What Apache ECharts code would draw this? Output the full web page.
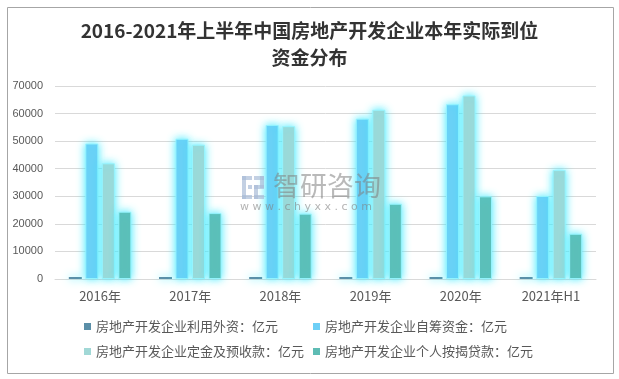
<!DOCTYPE html>
<html>
<head>
<meta charset="utf-8">
<script src="https://cdn.jsdelivr.net/npm/echarts@6/dist/echarts.min.js"></script>
<style>
html,body{margin:0;padding:0;background:#fff;}
#chart{width:619px;height:379px;}
</style>
</head>
<body>
<div id="chart"></div>
<script>
var titleText = '2016-2021年上半年中国房地产开发企业本年实际到位\n资金分布';
var categories = ['2016年', '2017年', '2018年', '2019年', '2020年', '2021年H1'];
var seriesNames = [
  '房地产开发企业利用外资：亿元',
  '房地产开发企业自筹资金：亿元',
  '房地产开发企业定金及预收款：亿元',
  '房地产开发企业个人按揭贷款：亿元'
];
var foreignCapital = [140, 168, 108, 176, 192, 60];
var selfRaised = [49133, 50872, 55831, 58158, 63377, 30100];
var depositsAdvance = [41952, 48694, 55418, 61359, 66547, 39500];
var mortgageLoans = [24403, 23906, 23706, 27281, 29976, 16400];
var yTicks = [0, 10000, 20000, 30000, 40000, 50000, 60000, 70000];

var colors = ['#5b8fa8', '#6dcff6', '#a1d8d6', '#5ebcb4'];
var dataSets = [foreignCapital, selfRaised, depositsAdvance, mortgageLoans];

var chart = echarts.init(document.getElementById('chart'));
var series = dataSets.map(function (d, i) {
  return {
    name: seriesNames[i],
    type: 'bar',
    data: d,
    barWidth: 13,
    barGap: '27%',
    barMinHeight: i === 0 ? 2 : 0,
    itemStyle: {
      color: colors[i],
      borderColor: i === 0 ? colors[0] : 'rgba(150,245,255,0.9)',
      borderWidth: i === 0 ? 0 : 1,
      shadowColor: 'rgba(60,235,255,1)',
      shadowBlur: 8
    }
  };
});
var legendPos = [[84, 320], [313, 320], [84, 345], [313, 345]];
var legends = seriesNames.map(function (n, i) {
  return {
    data: [n],
    left: legendPos[i][0],
    top: legendPos[i][1],
    padding: 0,
    icon: 'rect',
    itemWidth: 7,
    itemHeight: 7,
    itemGap: 0,
    selectedMode: false,
    itemStyle: {borderWidth: 0, shadowBlur: 0},
    textStyle: {color: '#595959', fontSize: 13, fontFamily: 'Noto Sans CJK SC', padding: [0, 0, 0, 0]}
  };
});

var wmFill = 'rgba(170,188,215,0.7)';
chart.setOption({
  backgroundColor: '#fff',
  animation: false,
  color: colors,
  title: {
    text: titleText,
    left: 'center',
    top: 12,
    padding: [5, 13, 5, 5],
    textStyle: {
      color: '#333333',
      fontSize: 19,
      fontWeight: 'bold',
      fontFamily: 'Noto Sans CJK SC',
      lineHeight: 27,
      align: 'center'
    }
  },
  legend: legends,
  grid: {left: 55, right: 23, top: 86, bottom: 100},
  xAxis: {
    type: 'category',
    data: categories,
    axisLine: {lineStyle: {color: '#d9d9d9'}},
    axisTick: {show: false},
    axisLabel: {color: '#595959', fontSize: 13, margin: 11, fontFamily: 'Noto Sans CJK SC'}
  },
  yAxis: {
    type: 'value',
    min: yTicks[0],
    max: yTicks[yTicks.length - 1],
    interval: yTicks[1] - yTicks[0],
    axisLine: {show: false},
    axisTick: {show: false},
    splitLine: {lineStyle: {color: '#d9d9d9'}},
    axisLabel: {color: '#595959', fontSize: 11, margin: 12, fontFamily: 'Liberation Sans',
      formatter: function (v) { return String(v); }}
  },
  graphic: [
    {
      type: 'rect', left: 5, top: 5, silent: true, z: -10,
      shape: {width: 606, height: 366},
      style: {fill: 'none', stroke: '#a6a6a6', lineWidth: 1}
    },
    {
      type: 'group', left: 240, top: 172, silent: true, z: 100,
      children: [
        {type: 'rect', z: 100, shape: {x: 0, y: 0, width: 10, height: 4}, style: {fill: wmFill}},
        {type: 'rect', z: 100, shape: {x: 0, y: 0, width: 4, height: 23}, style: {fill: wmFill}},
        {type: 'rect', z: 100, shape: {x: 6, y: 9, width: 4, height: 4}, style: {fill: wmFill}},
        {type: 'rect', z: 100, shape: {x: 0, y: 19, width: 10, height: 4}, style: {fill: wmFill}},
        {type: 'rect', z: 100, shape: {x: 12, y: 0, width: 10, height: 4}, style: {fill: wmFill}},
        {type: 'rect', z: 100, shape: {x: 18, y: 0, width: 4, height: 12}, style: {fill: wmFill}},
        {type: 'rect', z: 100, shape: {x: 12, y: 9, width: 10, height: 4}, style: {fill: wmFill}},
        {type: 'rect', z: 100, shape: {x: 12, y: 9, width: 4, height: 14}, style: {fill: wmFill}},
        {type: 'rect', z: 100, shape: {x: 12, y: 19, width: 10, height: 4}, style: {fill: wmFill}},
        {type: 'text', z: 100, x: 31, y: -4, style: {text: '智研咨询', fill: 'rgba(128,128,128,0.55)', font: '27px "Noto Sans CJK SC"', textVerticalAlign: 'top'}},
        {type: 'text', z: 100, x: -2, y: 26, style: {text: 'w w w . c h y x x . c o m', fill: 'rgba(128,128,128,0.6)', font: '11px "DejaVu Sans"', textVerticalAlign: 'top'}}
      ]
    }
  ],
  series: series
});
</script>
</body>
</html>
